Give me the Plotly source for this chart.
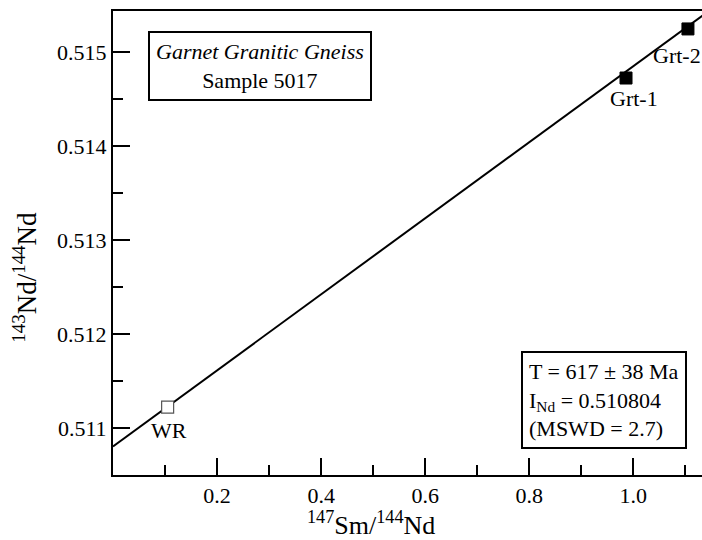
import plotly.graph_objects as go

# ---- data ----
sample_names = ["WR", "Grt-1", "Grt-2"]
sm_nd = [0.105, 0.986, 1.105]          # 147Sm/144Nd
nd_nd = [0.511223, 0.514723, 0.515245]  # 143Nd/144Nd
isochron_x = [0.0, 1.2]
isochron_intercept = 0.510804
isochron_slope = 0.004045
isochron_y = [isochron_intercept + isochron_slope * x for x in isochron_x]

x_ticks = [0.2, 0.4, 0.6, 0.8, 1.0]
x_minor = [0.1, 0.3, 0.5, 0.7, 0.9, 1.1]
y_ticks = [0.511, 0.512, 0.513, 0.514, 0.515]
y_minor = [0.5105, 0.5115, 0.5125, 0.5135, 0.5145]

FONT = "Liberation Serif"

fig = go.Figure()
fig.add_trace(go.Scatter(x=isochron_x, y=isochron_y, mode="lines",
                         line=dict(color="black", width=2), showlegend=False,
                         hoverinfo="skip"))
fig.add_trace(go.Scatter(x=sm_nd[:1], y=nd_nd[:1], mode="markers",
                         marker=dict(symbol="square", size=12, color="white",
                                     line=dict(color="#555555", width=1.2)),
                         showlegend=False))
fig.add_trace(go.Scatter(x=sm_nd[1:], y=nd_nd[1:], mode="markers",
                         marker=dict(symbol="square", size=12, color="black",
                                     line=dict(color="black", width=1)),
                         showlegend=False))

label_shifts = {"WR": (1, -23), "Grt-1": (8, -20), "Grt-2": (-11, -27)}
for name, xv, yv in zip(sample_names, sm_nd, nd_nd):
    dx, dy = label_shifts[name]
    fig.add_annotation(x=xv, y=yv, text=name, showarrow=False,
                       xshift=dx, yshift=dy, font=dict(family=FONT, size=22, color="black"))

fig.add_annotation(xref="paper", yref="paper", x=0.0586, y=0.8815,
                   xanchor="left", yanchor="middle",
                   text="<i>Garnet Granitic Gneiss</i><br>Sample 5017",
                   showarrow=False, align="center", bordercolor="black",
                   borderwidth=2, borderpad=6, bgcolor="white",
                   font=dict(family=FONT, size=22, color="black"))

fig.add_annotation(xref="paper", yref="paper", x=0.9745, y=0.1616,
                   xanchor="right", yanchor="middle",
                   text="T = 617 ± 38 Ma<br>I<sub>Nd</sub> = 0.510804<br>(MSWD = 2.7)",
                   showarrow=False, align="left", bordercolor="black",
                   borderwidth=2, borderpad=6, bgcolor="white",
                   font=dict(family=FONT, size=22, color="black"))

fig.add_annotation(xref="paper", yref="paper", x=0.4376, y=-0.1045,
                   xanchor="center", yanchor="middle",
                   text="<sup>147</sup>Sm/<sup>144</sup>Nd", showarrow=False,
                   font=dict(family=FONT, size=26, color="black"))
fig.add_annotation(xref="paper", yref="paper", x=-0.150, y=0.4267,
                   xanchor="center", yanchor="middle", textangle=-90,
                   text="<sup>143</sup>Nd/<sup>144</sup>Nd", showarrow=False,
                   font=dict(family=FONT, size=27, color="black"))

fig.update_xaxes(range=[0, 1.132], showline=True, linecolor="black", linewidth=2,
                 mirror=True, showgrid=False, zeroline=False,
                 tickmode="array", tickvals=x_ticks, tickformat=".1f",
                 ticks="inside", ticklen=17, tickwidth=2, tickcolor="black",
                 minor=dict(tickmode="array", tickvals=x_minor, ticks="inside",
                            ticklen=10, tickwidth=2, tickcolor="black", showgrid=False),
                 tickfont=dict(family=FONT, size=22, color="black"))
fig.update_yaxes(range=[0.5105, 0.515436], showline=True, linecolor="black", linewidth=2,
                 mirror=False, showgrid=False, zeroline=False,
                 tickmode="array", tickvals=y_ticks, tickformat=".3f",
                 ticks="inside", ticklen=17, tickwidth=2, tickcolor="black",
                 minor=dict(tickmode="array", tickvals=y_minor, ticks="inside",
                            ticklen=10, tickwidth=2, tickcolor="black", showgrid=False),
                 tickfont=dict(family=FONT, size=22, color="black"))

fig.update_layout(width=702, height=540, paper_bgcolor="white", plot_bgcolor="white",
                  font=dict(family=FONT, color="black"),
                  margin=dict(l=113, r=0, t=11, b=65), showlegend=False)

fig.write_html("out.html")
